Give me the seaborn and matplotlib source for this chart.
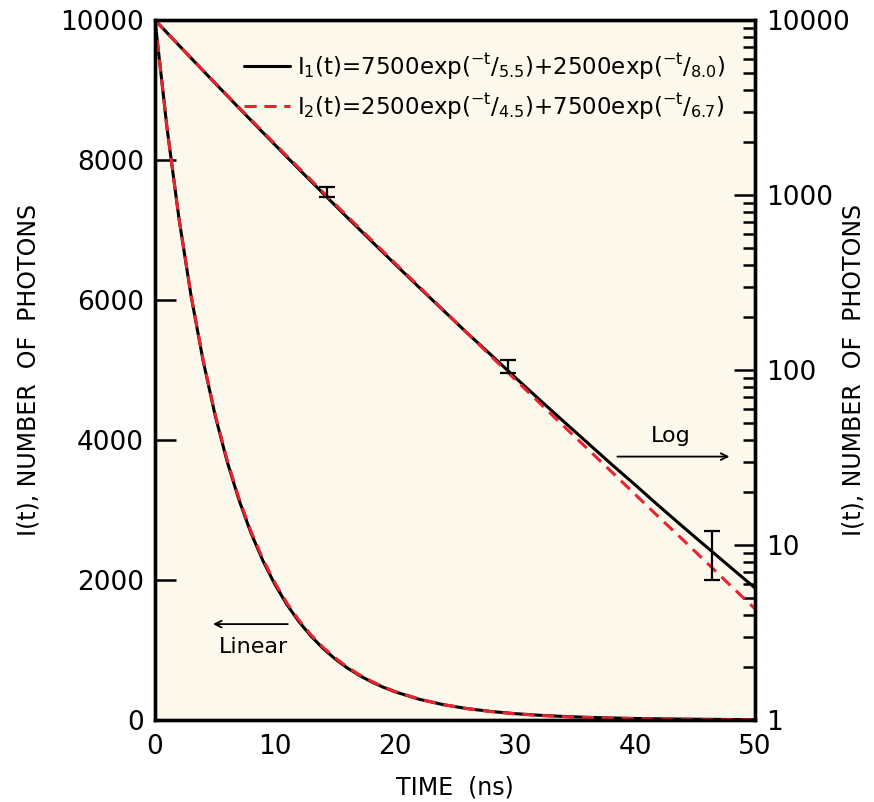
import matplotlib
matplotlib.use("Agg")
import matplotlib.pyplot as plt
import seaborn as sns
import pandas as pd
import numpy as np

# ---- data ----
time_ns = [0, 1, 2, 3, 4, 5, 6, 7, 8, 9, 10, 11, 12, 13, 14, 15, 16, 17, 18, 19, 20,
           22, 24, 26, 28, 30, 32, 34, 36, 38, 40, 42, 44, 46, 48, 50]
i1_counts = [10000, 8459, 7161, 6065, 5140, 4360, 3700, 3143, 2671, 2272, 1934,
             1647, 1404, 1198, 1023, 874, 747, 640, 548, 470, 403,
             297, 220, 163, 122, 90.9, 68.1, 51.2, 38.6, 29.1, 22.1, 16.7, 12.7, 9.70, 7.42, 5.68]
i2_counts = [10000, 8462, 7167, 6077, 5156, 4379, 3722, 3166, 2695, 2296, 1957,
             1669, 1425, 1217, 1039, 889, 760, 650, 557, 477, 408,
             300, 221, 163, 120, 88.4, 65.3, 48.2, 35.7, 26.4, 19.5, 14.4, 10.7, 7.9, 5.83, 4.32]
err_t = [14.3, 29.4, 46.4]
err_lo = [980, 96, 6.3]
err_hi = [1104, 114, 12.1]

label1 = r"I$_1$(t)=7500exp($^{-\mathrm{t}}$/$_{5.5}$)+2500exp($^{-\mathrm{t}}$/$_{8.0}$)"
label2 = r"I$_2$(t)=2500exp($^{-\mathrm{t}}$/$_{4.5}$)+7500exp($^{-\mathrm{t}}$/$_{6.7}$)"
x_ticks = [0, 10, 20, 30, 40, 50]
lin_ticks = [0, 2000, 4000, 6000, 8000, 10000]
log_ticks = [1, 10, 100, 1000, 10000]

df = pd.DataFrame({"t": time_ns, "I1": i1_counts, "I2": i2_counts})

sns.set_theme(style="white")
plt.rcParams["font.family"] = ["DejaVu Sans"]
plt.rcParams["text.color"] = "black"
plt.rcParams["axes.labelcolor"] = "black"
plt.rcParams["legend.labelcolor"] = "black"

fig = plt.figure(figsize=(8.74, 8.02), dpi=100)
ax = fig.add_axes([155 / 874, 1 - 720 / 802, 600 / 874, 700 / 802])
ax.set_facecolor("#FCF8EC")
ax2 = ax.twinx()

lw = 2.2
red = "#E8232F"
# linear curves
sns.lineplot(data=df, x="t", y="I1", ax=ax, color="black", lw=lw, label=label1)
sns.lineplot(data=df, x="t", y="I2", ax=ax, color=red, lw=lw, linestyle=(0, (4, 2.5)), label=label2)
# log curves
sns.lineplot(data=df, x="t", y="I1", ax=ax2, color="black", lw=lw, legend=False)
sns.lineplot(data=df, x="t", y="I2", ax=ax2, color=red, lw=lw, linestyle=(0, (4, 2.5)), legend=False)

ax2.set_yscale("log")
centers = [(a + b) / 2 for a, b in zip(err_lo, err_hi)]
ax2.errorbar(err_t, centers, yerr=[[c - a for c, a in zip(centers, err_lo)],
                                   [b - c for c, b in zip(centers, err_hi)]],
             fmt="none", ecolor="black", elinewidth=1.6, capsize=6, capthick=1.6)

ax.set_xlim(0, 50)
ax.set_ylim(0, 10000)
ax2.set_ylim(1, 10000)
ax.set_xticks(x_ticks)
ax.set_yticks(lin_ticks)
ax2.set_yticks(log_ticks)
ax2.set_yticklabels([str(v) for v in log_ticks])

for a in (ax, ax2):
    for s in a.spines.values():
        s.set_color("black")
        s.set_linewidth(2.4)

ax.tick_params(axis="both", which="major", direction="in", length=15, width=1.8,
               labelsize=19, pad=8, colors="black", right=False, top=False)
ax.tick_params(axis="x", pad=10)
ax2.tick_params(axis="y", which="major", direction="in", length=15, width=1.8,
                labelsize=19, pad=8, colors="black")
ax2.tick_params(axis="y", which="minor", direction="in", length=9, width=1.8, colors="black")

ax.set_xlabel("TIME  (ns)", fontsize=17)
ax.xaxis.set_label_coords(0.5, -0.08)
ax.set_ylabel("I(t), NUMBER  OF  PHOTONS", fontsize=17)
ax.yaxis.set_label_coords(-0.19, 0.5)
ax2.set_ylabel("I(t), NUMBER  OF  PHOTONS", fontsize=17, rotation=90)
ax2.yaxis.set_label_coords(1.145, 0.5)

leg = ax.legend(loc="upper right", bbox_to_anchor=(0.985, 0.985), frameon=False,
                fontsize=16.5, handlelength=2.0, handletextpad=0.3, labelspacing=0.45)
leg.set_zorder(10)

# annotations
ax2.annotate("", xy=(48.1, 32), xytext=(38.3, 32),
             arrowprops=dict(arrowstyle="->", color="black", lw=1.3))
ax2.text(43.0, 42, "Log", fontsize=16, ha="center", va="center")
ax.annotate("", xy=(4.6, 1370), xytext=(11.3, 1370),
            arrowprops=dict(arrowstyle="->", color="black", lw=1.3))
ax.text(8.2, 1040, "Linear", fontsize=16, ha="center", va="center")

fig.savefig("out.png", dpi=100, facecolor="white")
